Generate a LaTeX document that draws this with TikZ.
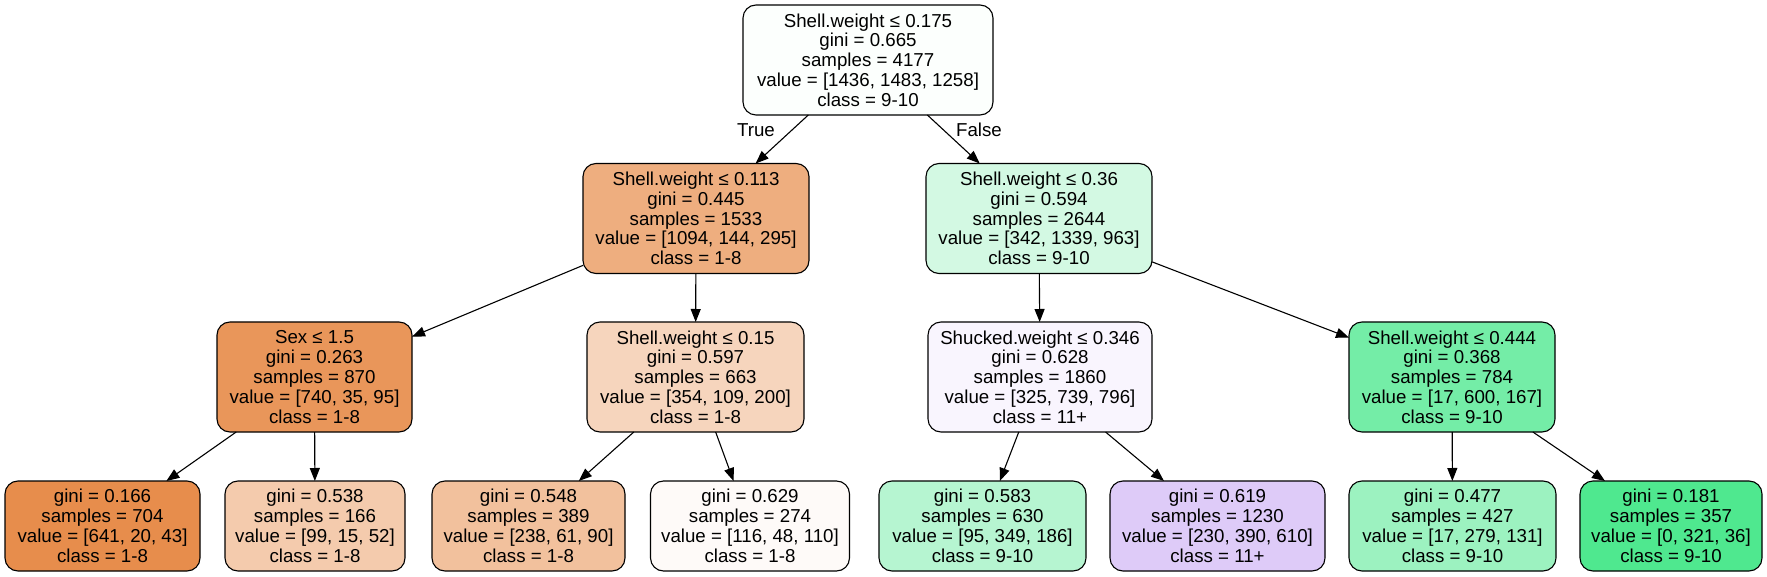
\documentclass[tikz,border=0pt]{standalone}
\usepackage{fontspec}
\setmainfont{Liberation Sans}
\usetikzlibrary{arrows.meta}
\definecolor{c0}{RGB}{252,255,253}
\definecolor{c1}{RGB}{238,174,127}
\definecolor{c2}{RGB}{211,249,227}
\definecolor{c3}{RGB}{233,150,90}
\definecolor{c4}{RGB}{246,213,189}
\definecolor{c5}{RGB}{249,245,254}
\definecolor{c6}{RGB}{116,237,167}
\definecolor{c7}{RGB}{231,141,76}
\definecolor{c8}{RGB}{244,203,173}
\definecolor{c9}{RGB}{242,193,157}
\definecolor{c10}{RGB}{254,250,248}
\definecolor{c11}{RGB}{182,245,209}
\definecolor{c12}{RGB}{222,203,248}
\definecolor{c13}{RGB}{156,242,192}
\definecolor{c14}{RGB}{79,232,143}
\tikzset{
  treebox/.style={draw=black, rounded corners=13pt, line width=1.1pt, align=center,
    inner sep=0pt, outer sep=0pt, font=\fontsize{18.7}{19.8}\selectfont},
  inner/.style={treebox, minimum height=110pt},
  leaf/.style={treebox, minimum height=90pt},
  edge/.style={line width=1.1pt, -{Triangle[length=13pt,width=10pt]}},
  elabel/.style={font=\fontsize{18.7}{19.8}\selectfont, inner sep=0pt}
}
\begin{document}
\begin{tikzpicture}[x=1pt,y=-1pt]
\useasboundingbox (0,0) rectangle (1767,577);
% level 0
\node[inner, fill=c0, minimum width=250pt] (root) at (868,60)
  {Shell.weight ≤ 0.175\\gini = 0.665\\samples = 4177\\value = [1436, 1483, 1258]\\class = 9-10};
% level 1
\node[inner, fill=c1, minimum width=226pt] (a) at (696,218.5)
  {Shell.weight ≤ 0.113\\gini = 0.445\\samples = 1533\\value = [1094, 144, 295]\\class = 1-8};
\node[inner, fill=c2, minimum width=226pt] (b) at (1039,218.5)
  {Shell.weight ≤ 0.36\\gini = 0.594\\samples = 2644\\value = [342, 1339, 963]\\class = 9-10};
% level 2
\node[inner, fill=c3, minimum width=195pt] (aa) at (314.5,377)
  {Sex ≤ 1.5\\gini = 0.263\\samples = 870\\value = [740, 35, 95]\\class = 1-8};
\node[inner, fill=c4, minimum width=217pt] (ab) at (695.5,377)
  {Shell.weight ≤ 0.15\\gini = 0.597\\samples = 663\\value = [354, 109, 200]\\class = 1-8};
\node[inner, fill=c5, minimum width=224pt] (ba) at (1040,377)
  {Shucked.weight ≤ 0.346\\gini = 0.628\\samples = 1860\\value = [325, 739, 796]\\class = 11+};
\node[inner, fill=c6, minimum width=206pt] (bb) at (1452,377)
  {Shell.weight ≤ 0.444\\gini = 0.368\\samples = 784\\value = [17, 600, 167]\\class = 9-10};
% level 3
\node[leaf, fill=c7, minimum width=195pt] (l1) at (102.5,526)
  {gini = 0.166\\samples = 704\\value = [641, 20, 43]\\class = 1-8};
\node[leaf, fill=c8, minimum width=180pt] (l2) at (315,526)
  {gini = 0.538\\samples = 166\\value = [99, 15, 52]\\class = 1-8};
\node[leaf, fill=c9, minimum width=193pt] (l3) at (528.5,526)
  {gini = 0.548\\samples = 389\\value = [238, 61, 90]\\class = 1-8};
\node[leaf, fill=c10, minimum width=199pt] (l4) at (750,526)
  {gini = 0.629\\samples = 274\\value = [116, 48, 110]\\class = 1-8};
\node[leaf, fill=c11, minimum width=207pt] (l5) at (982.5,526)
  {gini = 0.583\\samples = 630\\value = [95, 349, 186]\\class = 9-10};
\node[leaf, fill=c12, minimum width=215pt] (l6) at (1217.5,526)
  {gini = 0.619\\samples = 1230\\value = [230, 390, 610]\\class = 11+};
\node[leaf, fill=c13, minimum width=207pt] (l7) at (1452.5,526)
  {gini = 0.477\\samples = 427\\value = [17, 279, 131]\\class = 9-10};
\node[leaf, fill=c14, minimum width=182pt] (l8) at (1671,526)
  {gini = 0.181\\samples = 357\\value = [0, 321, 36]\\class = 9-10};
% edges
\draw[edge] (root) -- (a);
\draw[edge] (root) -- (b);
\draw[edge] (a) -- (aa);
\draw[edge] (a) -- (ab);
\draw[edge] (b) -- (ba);
\draw[edge] (b) -- (bb);
\draw[edge] (aa) -- (l1);
\draw[edge] (aa) -- (l2);
\draw[edge] (ab) -- (l3);
\draw[edge] (ab) -- (l4);
\draw[edge] (ba) -- (l5);
\draw[edge] (ba) -- (l6);
\draw[edge] (bb) -- (l7);
\draw[edge] (bb) -- (l8);
% edge labels
\node[elabel] (tl) at (756,130) {True};
\node[elabel] (fl) at (979,130) {False};
\end{tikzpicture}
\end{document}
